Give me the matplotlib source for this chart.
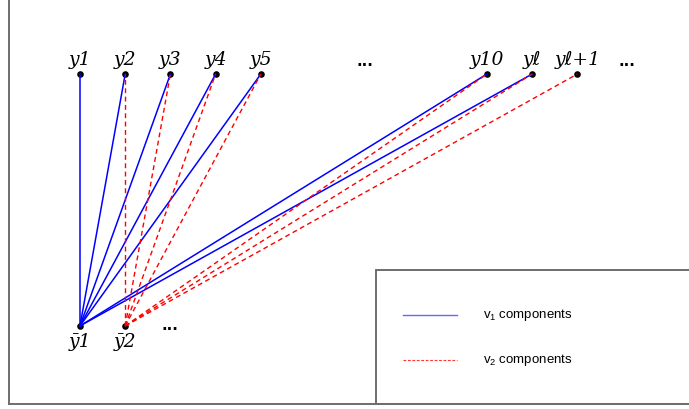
import matplotlib
matplotlib.use("Agg")
import matplotlib.pyplot as plt
from matplotlib.patches import Rectangle
from matplotlib.lines import Line2D

plt.rcParams["mathtext.fontset"] = "custom"
plt.rcParams["mathtext.rm"] = "Liberation Sans"
plt.rcParams["mathtext.it"] = "Liberation Sans:italic"

# top row nodes (column index, label)
top_cols = [0, 1, 2, 3, 4, 9, 10, 11]
top_labels = ["y1", "y2", "y3", "y4", "y5", "y10", "y\u2113", "y\u2113+1"]

# bottom row nodes
bottom_cols = [0, 1]
bottom_labels = ["\u02331", "\u02332"]

# edges: top columns reached from each bottom node
v1_targets = [0, 1, 2, 3, 4, 9, 10]   # from ybar_1
v2_targets = [1, 2, 3, 4, 9, 10, 11]  # from ybar_2

top_dots = [6.3, 12.1]
bottom_dots = [2.0]

BLUE = "#0000ff"
RED = "#ff0000"
GRAY = "#6e6e6e"
LABEL_FONT = ["DejaVu Serif", "DejaVu Sans"]

fig = plt.figure(figsize=(6.89, 4.09), dpi=100)
ax = fig.add_axes([9 / 689, 5 / 409, 680 / 689, 404 / 409])
ax.set_xlim(-1.57, 13.47)
ax.set_ylim(-0.31, 1.294)
for side in ("top", "right"):
    ax.spines[side].set_visible(False)
for side in ("left", "bottom"):
    ax.spines[side].set_color(GRAY)
    ax.spines[side].set_linewidth(1.4)
ax.set_xticks([])
ax.set_yticks([])

# nodes
ax.scatter(top_cols, [1] * len(top_cols), s=14, color="black", zorder=1)
ax.scatter(bottom_cols, [0] * len(bottom_cols), s=14, color="black", zorder=1)

for c in v1_targets:
    ax.plot([bottom_cols[0], c], [0, 1], color=BLUE, lw=1.1, zorder=2)
for c in v2_targets:
    ax.plot([bottom_cols[1], c], [0, 1], color=RED, lw=1.0,
            dashes=(3.5, 2.5), zorder=3)

for c, lab in zip(top_cols, top_labels):
    ax.text(c, 1.035, lab, ha="center", va="baseline", fontsize=13.5,
            style="italic", family=LABEL_FONT)
for c, lab in zip(bottom_cols, bottom_labels):
    ax.text(c, -0.085, lab, ha="center", va="baseline", fontsize=13.5,
            style="italic", family=LABEL_FONT)

for c in top_dots:
    ax.text(c, 1.03, "...", ha="center", va="baseline", fontsize=11,
            fontweight="bold", family="DejaVu Sans")
for c in bottom_dots:
    ax.text(c, -0.015, "...", ha="center", va="baseline", fontsize=11,
            fontweight="bold", family="DejaVu Sans")

# legend box, drawn in figure pixels
def fx(px):
    return px / 689

def fy(py):
    return 1 - py / 409

fig.patches.append(Rectangle((fx(376), fy(404)), fx(400), fy(270) - fy(404),
                             transform=fig.transFigure, fill=False,
                             edgecolor=GRAY, lw=1.4))
fig.lines.append(Line2D([fx(403), fx(457)], [fy(315), fy(315)],
                        transform=fig.transFigure, color=BLUE, lw=1.0,
                        alpha=0.6))
fig.lines.append(Line2D([fx(403), fx(457)], [fy(360), fy(360)],
                        transform=fig.transFigure, color=RED, lw=0.8,
                        dashes=(2.5, 1.5), alpha=0.8))
fig.text(fx(483), fy(315), r"v$_1$ components", va="center", fontsize=9.5,
         family="Liberation Sans")
fig.text(fx(483), fy(360), r"v$_2$ components", va="center", fontsize=9.5,
         family="Liberation Sans")

fig.savefig("out.png", dpi=100)
